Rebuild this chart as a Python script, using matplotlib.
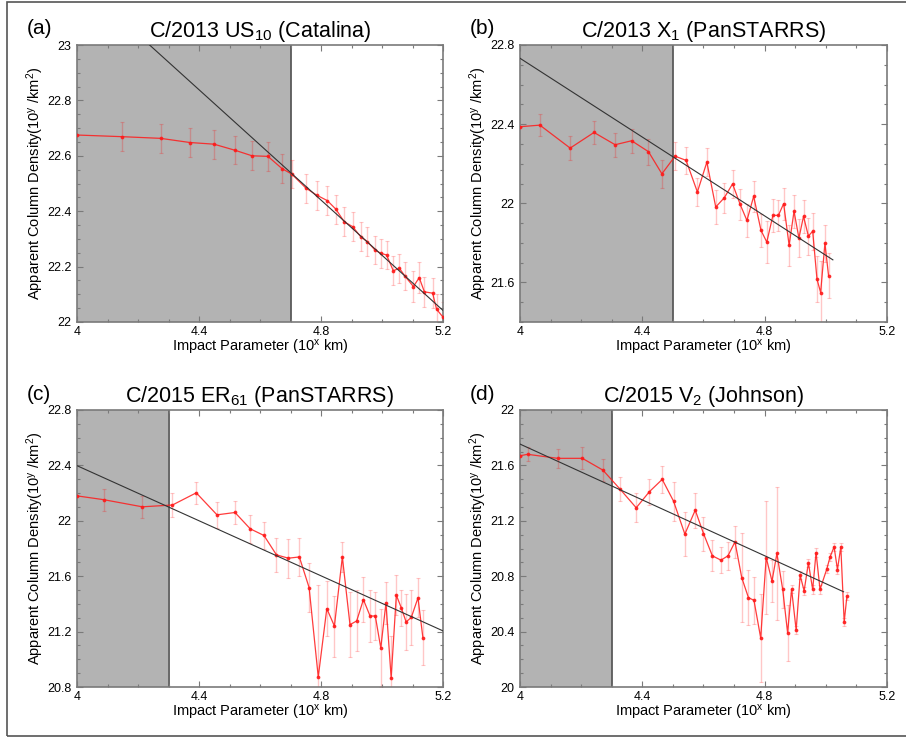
import numpy as np
import matplotlib
matplotlib.use('Agg')
import matplotlib.pyplot as plt
from matplotlib.ticker import MultipleLocator, FuncFormatter
from matplotlib.patches import Rectangle

plt.rcParams['font.family'] = ['Liberation Sans', 'DejaVu Sans']
plt.rcParams['mathtext.fontset'] = 'custom'
plt.rcParams['mathtext.rm'] = 'Liberation Sans'
plt.rcParams['mathtext.it'] = 'Liberation Sans'

# (a) C/2013 US10
xa = [4.000, 4.149, 4.274, 4.370, 4.449, 4.518, 4.574, 4.626, 4.672, 4.704, 4.751, 4.786,
      4.821, 4.849, 4.876, 4.904, 4.930, 4.952, 4.977, 4.996, 5.015, 5.037, 5.057, 5.075,
      5.103, 5.122, 5.139, 5.166, 5.179, 5.199]
ya = [22.675, 22.669, 22.663, 22.648, 22.642, 22.620, 22.600, 22.598, 22.554, 22.534, 22.483, 22.458,
      22.438, 22.407, 22.362, 22.344, 22.308, 22.290, 22.260, 22.248, 22.242, 22.185, 22.194, 22.166,
      22.128, 22.160, 22.109, 22.104, 22.046, 22.019]
ea = [0.0, 0.052, 0.052, 0.052, 0.052, 0.05, 0.052, 0.052, 0.052, 0.052, 0.052, 0.052,
      0.052, 0.052, 0.052, 0.052, 0.052, 0.052, 0.052, 0.052, 0.052, 0.052, 0.052, 0.052,
      0.055, 0.055, 0.055, 0.055, 0.055, 0.055]

# (b) C/2013 X1
xb = [4.000, 4.065, 4.164, 4.242, 4.311, 4.365, 4.420, 4.464, 4.507, 4.543, 4.580, 4.611,
      4.640, 4.668, 4.695, 4.720, 4.742, 4.764, 4.788, 4.807, 4.827, 4.845, 4.862, 4.880,
      4.896, 4.912, 4.927, 4.943, 4.957, 4.971, 4.983, 4.997, 5.009]
yb = [22.387, 22.395, 22.279, 22.358, 22.296, 22.316, 22.261, 22.149, 22.238, 22.217, 22.057, 22.208,
      21.981, 22.028, 22.098, 21.994, 21.913, 22.035, 21.863, 21.804, 21.939, 21.939, 21.998, 21.787,
      21.960, 21.824, 21.934, 21.834, 21.859, 21.617, 21.549, 21.798, 21.633]
eb = [0.0, 0.055, 0.06, 0.06, 0.06, 0.06, 0.065, 0.07, 0.07, 0.07, 0.072, 0.07,
      0.084, 0.076, 0.072, 0.08, 0.082, 0.077, 0.084, 0.105, 0.082, 0.08, 0.08, 0.105,
      0.084, 0.097, 0.084, 0.093, 0.094, 0.118, 0.16, 0.093, 0.114]

# (c) C/2015 ER61
xc = [4.000, 4.089, 4.214, 4.313, 4.391, 4.459, 4.518, 4.568, 4.613, 4.654, 4.693, 4.729,
      4.761, 4.791, 4.819, 4.844, 4.870, 4.895, 4.917, 4.939, 4.961, 4.978, 4.996, 5.013,
      5.030, 5.047, 5.063, 5.079, 5.096, 5.118, 5.134]
yc = [22.180, 22.152, 22.101, 22.114, 22.202, 22.043, 22.060, 21.942, 21.894, 21.754, 21.730, 21.739,
      21.518, 20.872, 21.366, 21.240, 21.739, 21.250, 21.277, 21.431, 21.312, 21.313, 21.082, 21.407,
      20.865, 21.463, 21.373, 21.270, 21.302, 21.444, 21.157]
ec = [0.0, 0.078, 0.08, 0.084, 0.08, 0.093, 0.084, 0.10, 0.10, 0.125, 0.14, 0.135,
      0.18, 0.667, 0.20, 0.22, 0.106, 0.235, 0.22, 0.16, 0.19, 0.175, 0.28, 0.15,
      0.30, 0.145, 0.13, 0.20, 0.20, 0.14, 0.20]

# (d) C/2015 V2
xd = [4.000, 4.025, 4.123, 4.204, 4.271, 4.327, 4.380, 4.423, 4.465, 4.502, 4.539, 4.573,
      4.600, 4.629, 4.657, 4.680, 4.703, 4.725, 4.747, 4.765, 4.787, 4.805, 4.824, 4.840,
      4.859, 4.875, 4.888, 4.903, 4.916, 4.929, 4.943, 4.957, 4.968, 4.981, 5.003, 5.014,
      5.027, 5.038, 5.049, 5.060, 5.069]
yd = [21.670, 21.680, 21.651, 21.651, 21.566, 21.429, 21.294, 21.410, 21.499, 21.342, 21.104, 21.277,
      21.108, 20.947, 20.916, 20.947, 21.048, 20.790, 20.645, 20.626, 20.354, 20.935, 20.764, 20.964,
      20.704, 20.391, 20.706, 20.410, 20.807, 20.694, 20.896, 20.704, 20.971, 20.704, 20.851, 20.940,
      21.012, 20.848, 21.012, 20.470, 20.656]
ed = [0.0, 0.05, 0.07, 0.08, 0.08, 0.088, 0.105, 0.093, 0.10, 0.14, 0.157, 0.127,
      0.123, 0.113, 0.094, 0.10, 0.114, 0.32, 0.20, 0.17, 0.32, 0.41, 0.15, 0.48,
      0.13, 0.20, 0.03, 0.03, 0.03, 0.03, 0.03, 0.03, 0.03, 0.03, 0.03, 0.03,
      0.03, 0.03, 0.03, 0.03, 0.03]

# linear fits: slope, intercept, x start, x end
fit_a = (-0.996, 27.221, 4.0, 5.2)
fit_b = (-0.996, 26.717, 4.0, 5.023)
fit_c = (-0.994, 26.374, 4.0, 5.2)
fit_d = (-1.008, 25.786, 4.0, 5.058)

# inner (excluded) region upper limit
shade = {'a': 4.7, 'b': 4.5, 'c': 4.3, 'd': 4.3}

titles = {'a': r'C/2013 US$_{\mathregular{10}}$ (Catalina)',
          'b': r'C/2013 X$_{\mathregular{1}}$ (PanSTARRS)',
          'c': r'C/2015 ER$_{\mathregular{61}}$ (PanSTARRS)',
          'd': r'C/2015 V$_{\mathregular{2}}$ (Johnson)'}
ylims = {'a': (22, 23), 'b': (21.4, 22.8), 'c': (20.8, 22.8), 'd': (20, 22)}
ymaj = {'a': 0.2, 'b': 0.4, 'c': 0.4, 'd': 0.4}
ymin = {'a': 0.05, 'b': 0.1, 'c': 0.1, 'd': 0.1}

W, H = 906, 738
fig = plt.figure(figsize=(W / 100, H / 100), dpi=100)

def px_rect(l, t, r, b):
    return [l / W, 1 - b / H, (r - l) / W, (b - t) / H]

boxes = {'a': (77, 45, 443, 322), 'b': (520, 45, 887, 322),
         'c': (77, 410, 443, 687), 'd': (520, 410, 887, 687)}
data = {'a': (xa, ya, ea, fit_a), 'b': (xb, yb, eb, fit_b),
        'c': (xc, yc, ec, fit_c), 'd': (xd, yd, ed, fit_d)}
SPINE = '#7a7a7a'

for key in 'abcd':
    x, y, e, fit = data[key]
    ax = fig.add_axes(px_rect(*boxes[key]))
    ax.axvspan(4.0, shade[key], color='#b3b3b3', lw=0, zorder=0)
    ax.axvline(shade[key], color='#5a5a5a', lw=1.3, zorder=1)
    ax.errorbar(x, y, yerr=e, fmt='none', ecolor='red', alpha=0.22, elinewidth=1.0,
                capsize=1.5, capthick=0.8, zorder=2)
    ax.plot(x, y, color='#ff1a1a', alpha=0.85, lw=0.9, marker='o', ms=1.7, zorder=3)
    m, c, x0, x1 = fit
    fx = np.array([x0, x1])
    ax.plot(fx, m * fx + c, color='#333333', lw=0.8, zorder=4)

    ax.set_xlim(4, 5.2)
    ax.set_ylim(*ylims[key])
    ax.xaxis.set_major_locator(MultipleLocator(0.4))
    ax.xaxis.set_minor_locator(MultipleLocator(0.1))
    ax.yaxis.set_major_locator(MultipleLocator(ymaj[key]))
    ax.yaxis.set_minor_locator(MultipleLocator(ymin[key]))
    fmt = FuncFormatter(lambda v, p: f'{round(v, 2):g}')
    ax.xaxis.set_major_formatter(fmt)
    ax.yaxis.set_major_formatter(fmt)
    ax.tick_params(which='both', direction='in', top=True, right=True, color=SPINE,
                   labelsize=9, width=0.8)
    ax.tick_params(which='major', length=4)
    ax.tick_params(which='minor', length=2)
    ax.tick_params(axis='x', pad=3)
    ax.tick_params(axis='y', pad=4)
    for s in ax.spines.values():
        s.set_color(SPINE)
        s.set_linewidth(1.2)

    ax.set_title(titles[key], fontsize=15.5, pad=6)
    ax.set_xlabel(r'Impact Parameter (10$^{\mathregular{x}}$ km)', fontsize=10.5)
    ax.set_ylabel(r'Apparent Column Density(10$^{\mathregular{y}}$ /km$^{\mathregular{2}}$)',
                  fontsize=10.5)
    ax.xaxis.set_label_coords(0.5, -0.058)
    ax.yaxis.set_label_coords(-0.085, 0.5)

    l, t, r, b = boxes[key]
    fig.text((l - 50) / W, 1 - (t - 16) / H, f'({key})', fontsize=15, ha='left', va='center')

# outer frame
fig.add_artist(Rectangle((7 / W, 2 / H), 1.2, 734 / H, transform=fig.transFigure,
                         fill=False, edgecolor='#555555', lw=1.2))

fig.savefig('out.png', dpi=100)
